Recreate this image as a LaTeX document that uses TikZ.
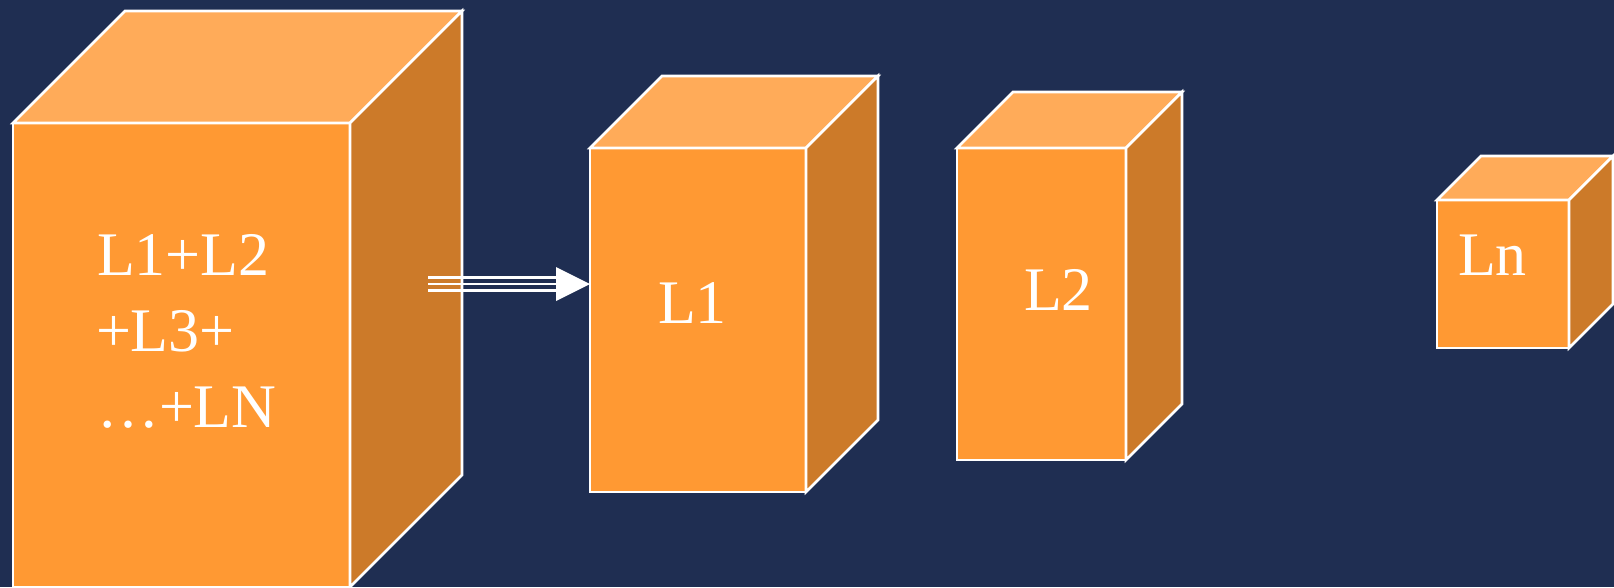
\documentclass[tikz,border=0pt]{standalone}
\usepackage{fontspec}
\setmainfont{Liberation Serif}
\definecolor{bg}{RGB}{31,46,82}
\definecolor{frontc}{RGB}{255,153,51}
\definecolor{topc}{RGB}{255,171,89}
\definecolor{sidec}{RGB}{204,122,41}
\tikzset{
  face/.style={draw=white, line width=2.6pt, line join=miter},
  frontface/.style={face, fill=frontc, rectangle, inner sep=0pt, outer sep=0pt, anchor=north west},
  lbl/.style={text=white, font=\fontsize{62}{76}\selectfont, inner sep=0pt, outer sep=0pt, anchor=base west},
  shaft/.style={draw=white, line width=2.6pt},
  head/.style={fill=white},
}
% \prism{name}{x}{y}{width}{height}{depth}: front face as a node, top and side faces from its corners
\newcommand\prism[6]{%
  \node[frontface, minimum width=#4pt, minimum height=#5pt] (#1) at (#2,#3) {};
  \draw[face, fill=topc] (#1.north west) -- ++(#6,-#6) -- ++(#4,0) -- (#1.north east) -- cycle;
  \draw[face, fill=sidec] (#1.north east) -- ++(#6,-#6) -- ++(0,#5) -- (#1.south east) -- cycle;
}
\begin{document}
\begin{tikzpicture}[x=1pt, y=-1pt]
  \useasboundingbox (0,0) rectangle (1614,587);
  \fill[bg] (0,0) rectangle (1614,587);

  \prism{big}{13}{123}{337}{464}{112}
  \prism{lone}{590}{148}{216}{344}{72}
  \prism{ltwo}{957}{148}{169}{312}{56}
  \prism{lnn}{1437}{200}{132}{148}{44}

  \node[lbl] (sumA) at (97,275) {L1+L2};
  \node[lbl] (sumB) at (96,351) {+L3+};
  \node[lbl] (sumC) at (97,427) {…+LN};
  \node[lbl] (tone) at (658,323) {L1};
  \node[lbl] (ttwo) at (1024,310) {L2};
  \node[lbl] (tnn) at (1458,275) {Ln};

  % triple-line arrow from the large block to the first block
  \coordinate (arrS) at (428,284);
  \coordinate (arrB) at (556,284);
  \coordinate (tip) at (lone.west |- arrS);
  \draw[shaft] ([yshift=6.5pt]arrS) -- ([yshift=6.5pt]arrB);
  \draw[shaft] (arrS) -- (arrB);
  \draw[shaft] ([yshift=-6.5pt]arrS) -- ([yshift=-6.5pt]arrB);
  \fill[head] ([yshift=17pt]arrB) -- (tip) -- ([yshift=-17pt]arrB) -- cycle;
\end{tikzpicture}
\end{document}
